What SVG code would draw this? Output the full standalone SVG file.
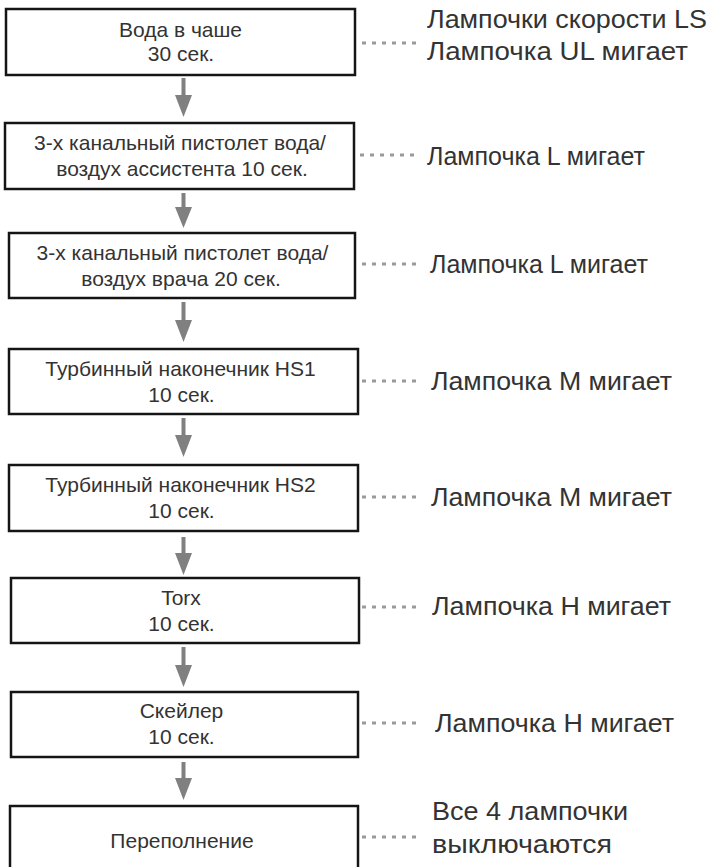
<svg xmlns="http://www.w3.org/2000/svg" width="711" height="867" viewBox="0 0 711 867">
  <style>
    .box { fill: #ffffff; stroke: #151515; stroke-width: 2.5; }
    .step { font-family: "Liberation Sans", Arial, sans-serif; font-size: 21px; fill: #333333; text-anchor: middle; }
    .note { font-family: "Liberation Sans", Arial, sans-serif; font-size: 25px; fill: #333333; }
    .flow { fill: #808080; stroke: none; }
    .dots { stroke: #9a9a9a; stroke-width: 3; stroke-dasharray: 4 6; fill: none; }
  </style>
  <rect width="711" height="867" fill="#ffffff"/>

  <!-- process steps -->
  <g id="step-bowl">
    <rect class="box" x="6" y="9" width="349" height="66"/>
    <text class="step" x="180.5" y="37">Вода в чаше</text>
    <text class="step" x="181" y="61">30 сек.</text>
  </g>
  <g id="step-syringe-assistant">
    <rect class="box" x="5" y="123" width="349" height="66"/>
    <text class="step" x="180" y="150">3-х канальный пистолет вода/</text>
    <text class="step" x="182" y="176">воздух ассистента 10 сек.</text>
  </g>
  <g id="step-syringe-doctor">
    <rect class="box" x="9" y="233" width="346" height="65"/>
    <text class="step" x="182.5" y="260">3-х канальный пистолет вода/</text>
    <text class="step" x="181" y="286">воздух врача 20 сек.</text>
  </g>
  <g id="step-hs1">
    <rect class="box" x="9" y="349" width="349" height="65"/>
    <text class="step" x="180.5" y="376">Турбинный наконечник HS1</text>
    <text class="step" x="181.5" y="402">10 сек.</text>
  </g>
  <g id="step-hs2">
    <rect class="box" x="9" y="465" width="349" height="66"/>
    <text class="step" x="180.5" y="492">Турбинный наконечник HS2</text>
    <text class="step" x="181.5" y="518">10 сек.</text>
  </g>
  <g id="step-torx">
    <rect class="box" x="11" y="578" width="348" height="65"/>
    <text class="step" x="181" y="605">Torx</text>
    <text class="step" x="181.5" y="631">10 сек.</text>
  </g>
  <g id="step-scaler">
    <rect class="box" x="11" y="692" width="347" height="65"/>
    <text class="step" x="181.5" y="718">Скейлер</text>
    <text class="step" x="181.5" y="744">10 сек.</text>
  </g>
  <g id="step-overflow">
    <rect class="box" x="10" y="806" width="348" height="72"/>
    <text class="step" x="182" y="848">Переполнение</text>
  </g>

  <!-- lamp status notes -->
  <g id="note-bowl">
    <text class="note" x="427" y="28" textLength="280" lengthAdjust="spacingAndGlyphs">Лампочки скорости LS</text>
    <text class="note" x="427" y="60" textLength="261" lengthAdjust="spacingAndGlyphs">Лампочка UL мигает</text>
  </g>
  <g id="note-syringe-assistant">
    <text class="note" x="427" y="165" textLength="218" lengthAdjust="spacingAndGlyphs">Лампочка L мигает</text>
  </g>
  <g id="note-syringe-doctor">
    <text class="note" x="430" y="273" textLength="218" lengthAdjust="spacingAndGlyphs">Лампочка L мигает</text>
  </g>
  <g id="note-hs1">
    <text class="note" x="431" y="390" textLength="241" lengthAdjust="spacingAndGlyphs">Лампочка M мигает</text>
  </g>
  <g id="note-hs2">
    <text class="note" x="431" y="506" textLength="241" lengthAdjust="spacingAndGlyphs">Лампочка M мигает</text>
  </g>
  <g id="note-torx">
    <text class="note" x="432" y="615" textLength="239" lengthAdjust="spacingAndGlyphs">Лампочка H мигает</text>
  </g>
  <g id="note-scaler">
    <text class="note" x="435" y="732" textLength="239" lengthAdjust="spacingAndGlyphs">Лампочка H мигает</text>
  </g>
  <g id="note-overflow">
    <text class="note" x="432" y="820" textLength="196" lengthAdjust="spacingAndGlyphs">Все 4 лампочки</text>
    <text class="note" x="432" y="853" textLength="180" lengthAdjust="spacingAndGlyphs">выключаются</text>
  </g>

  <!-- connectors -->
  <g id="connectors">
    <path class="flow" d="M181.5 78 H185.5 V95 H192 L183.5 117 L175 95 H181.5 Z"/>
    <path class="flow" d="M181.5 193 H185.5 V207 H192 L183.5 228 L175 207 H181.5 Z"/>
    <path class="flow" d="M181.5 302 H185.5 V320 H192 L183.5 342 L175 320 H181.5 Z"/>
    <path class="flow" d="M181.5 418 H185.5 V435 H192 L183.5 457 L175 435 H181.5 Z"/>
    <path class="flow" d="M181.5 537 H185.5 V553 H192 L183.5 575 L175 553 H181.5 Z"/>
    <path class="flow" d="M181.5 647 H185.5 V665 H192 L183.5 687 L175 665 H181.5 Z"/>
    <path class="flow" d="M181.5 762 H185.5 V778 H192 L183.5 800 L175 778 H181.5 Z"/>

    <line class="dots" x1="362" y1="43" x2="420" y2="43"/>
    <line class="dots" x1="360" y1="155" x2="418" y2="155"/>
    <line class="dots" x1="362" y1="264" x2="420" y2="264"/>
    <line class="dots" x1="362" y1="381" x2="420" y2="381"/>
    <line class="dots" x1="362" y1="497" x2="420" y2="497"/>
    <line class="dots" x1="362" y1="607" x2="420" y2="607"/>
    <line class="dots" x1="362" y1="723" x2="420" y2="723"/>
    <line class="dots" x1="362" y1="837" x2="420" y2="837"/>
  </g>
</svg>
